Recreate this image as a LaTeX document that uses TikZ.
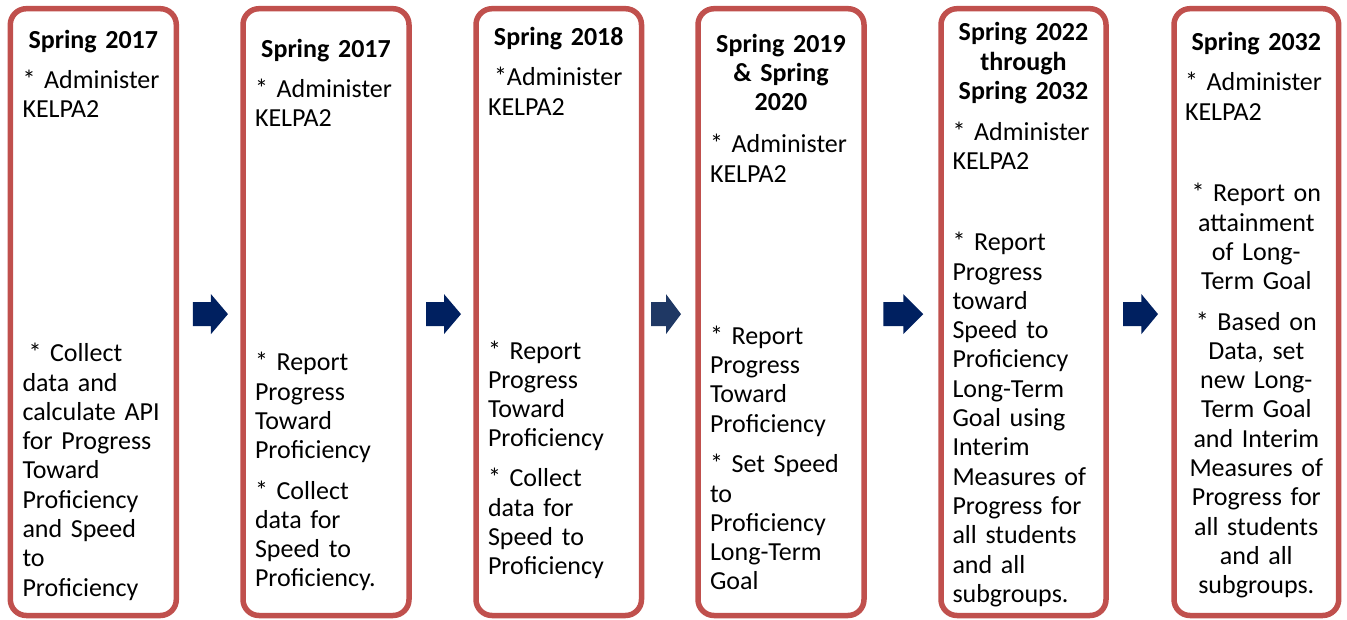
\documentclass[tikz,border=0pt]{standalone}
\usepackage{fontspec}
\setmainfont{Carlito}
\usetikzlibrary{calc}
\definecolor{boxred}{HTML}{C0504D}
\definecolor{navy}{HTML}{002060}
\definecolor{navyb}{HTML}{1F3864}
\tikzset{
  stagebox/.style={draw=boxred, line width=5.5pt, rounded corners=16pt, outer sep=0pt, inner sep=0pt, anchor=north west},
  txt/.style={inner sep=0pt, outer sep=0pt, font=\fontsize{26}{29.3}\selectfont, text width=170pt, align=left, anchor=base west},
  ctxt/.style={txt, align=center, anchor=base},
  ttl/.style={ctxt, font=\fontsize{26}{29.3}\selectfont\bfseries},
}
\newcommand\blkarrow[5]{\fill[#5,shift={(#1)}] (#2,10) -- (#3,10) -- (#3,18) -- (#4,-2) -- (#3,-22) -- (#3,-14) -- (#2,-14) -- cycle;}
\begin{document}
\begin{tikzpicture}[x=1pt,y=1pt]
\useasboundingbox (0,0) rectangle (1347,-619);
% boxes
\node[stagebox, minimum width=166pt, minimum height=606.8pt] (box1) at (10.3,-8.7) {};
\node[stagebox, minimum width=166pt, minimum height=606.8pt] (box2) at (243,-8.7) {};
\node[stagebox, minimum width=165.5pt, minimum height=606.8pt] (box3) at (476,-8.7) {};
\node[stagebox, minimum width=166pt, minimum height=606.8pt] (box4) at (698,-8.7) {};
\node[stagebox, minimum width=165pt, minimum height=606.8pt] (box5) at (941,-8.7) {};
\node[stagebox, minimum width=164.7pt, minimum height=606.8pt] (box6) at (1174,-8.7) {};
% arrows
\coordinate (m1) at ($(box1.east)!.5!(box2.west)$);
\coordinate (m2) at ($(box2.east)!.5!(box3.west)$);
\coordinate (m3) at ($(box3.east)!.5!(box4.west)$);
\coordinate (m4) at ($(box4.east)!.5!(box5.west)$);
\coordinate (m5) at ($(box5.east)!.5!(box6.west)$);
\blkarrow{m1}{-16.7}{1.3}{18.3}{navy}
\blkarrow{m2}{-16.5}{1.5}{18.5}{navy}
\blkarrow{m3}{-18.75}{-3.75}{11.25}{navyb}
\blkarrow{m4}{-19.2}{0.8}{20.8}{navy}
\blkarrow{m5}{-17}{1.4}{18}{navy}
% box 1
\node[ttl] (t1) at (93.3,-48.3) {Spring 2017};
\node[txt] (a1) at (22.5,-88.3) {* Administer\\KELPA2};
\node[txt] (c1) at (22.5,-361.7) {\hspace*{6pt}* Collect\\data and\\calculate API\\for Progress\\Toward\\Proficiency\\and Speed\\to\\Proficiency};
% box 2
\node[ttl] (t2) at (326,-57.3) {Spring 2017};
\node[txt] (a2) at (255,-97.3) {* Administer\\KELPA2};
\node[txt] (r2) at (255,-370.7) {* Report\\Progress\\Toward\\Proficiency};
\node[txt] (c2) at (255,-499) {* Collect\\data for\\Speed to\\Proficiency.};
% box 3
\node[ttl] (t3) at (558.75,-45) {Spring 2018};
\node[txt] (a3) at (488,-85.7) {\hspace*{6pt}*Administer\\KELPA2};
\node[txt] (r3) at (488,-359) {* Report\\Progress\\Toward\\Proficiency};
\node[txt] (c3) at (488,-486.7) {* Collect\\data for\\Speed to\\Proficiency};
% box 4
\node[ttl] (t4) at (781,-52.3) {Spring 2019\\\& Spring\\2020};
\node[txt] (a4) at (710,-152.7) {* Administer\\KELPA2};
\node[txt] (r4) at (710,-344.3) {* Report\\Progress\\Toward\\Proficiency};
\node[txt] (s4) at (710,-472.7) {* Set Speed\\to\\Proficiency\\Long-Term\\Goal};
% box 5
\node[ttl] (t5) at (1023.5,-40.7) {Spring 2022\\through\\Spring 2032};
\node[txt] (a5) at (952.5,-140) {* Administer\\KELPA2};
\node[txt] (r5) at (952.5,-250.7) {* Report\\Progress\\toward\\Speed to\\Proficiency\\Long-Term\\Goal using\\Interim\\Measures of\\Progress for\\all students\\and all\\subgroups.};
% box 6
\node[ttl] (t6) at (1256.3,-50) {Spring 2032};
\node[txt] (a6) at (1185,-90.7) {* Administer\\KELPA2};
\node[ctxt] (r6) at (1256.3,-201.7) {* Report on\\attainment\\of Long-\\Term Goal};
\node[ctxt] (b6) at (1256.3,-330) {* Based on\\Data, set\\new Long-\\Term Goal\\and Interim\\Measures of\\Progress for\\all students\\and all\\subgroups.};
\end{tikzpicture}
\end{document}
